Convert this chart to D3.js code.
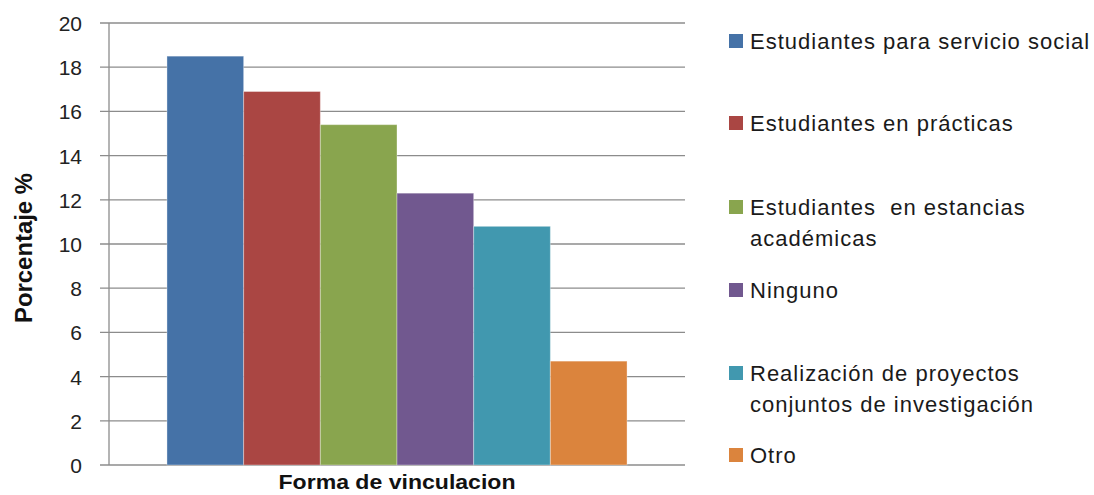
<!DOCTYPE html>
<html lang="es">
<head>
<meta charset="UTF-8">
<title>Forma de vinculacion</title>
<script src="https://d3js.org/d3.v7.min.js"></script>
<style>
body {
  margin: 0;
  background: #fff;
  font-family: "Liberation Sans", Arial, sans-serif;
}
.grid line { stroke: #8c8c8c; stroke-width: 1.3px; }
.axis text { font-size: 21px; fill: #222; }
</style>
</head>
<body>
<div id="chart"></div>
<script>
// data
var categories = ["Estudiantes para servicio social", "Estudiantes en prácticas",
  "Estudiantes  en estancias académicas", "Ninguno",
  "Realización de proyectos conjuntos de investigación", "Otro"];
var legendLines = [["Estudiantes para servicio social"], ["Estudiantes en prácticas"],
  ["Estudiantes  en estancias", "académicas"], ["Ninguno"],
  ["Realización de proyectos", "conjuntos de investigación"], ["Otro"]];
var values = [18.5, 16.9, 15.4, 12.3, 10.8, 4.7];
var colors = ["#4572A7", "#AA4643", "#89A54E", "#71588F", "#4198AF", "#DB843D"];
var yTicks = [0, 2, 4, 6, 8, 10, 12, 14, 16, 18, 20];

var W = 1094, H = 495;
var margin = {top: 23, right: 409, bottom: 30, left: 109},
    width = W - margin.left - margin.right,
    height = H - margin.top - margin.bottom;

var svg = d3.select("#chart")
  .append("svg")
    .attr("width", W)
    .attr("height", H);

var g = svg.append("g")
    .attr("transform", "translate(" + margin.left + "," + margin.top + ")");

var y = d3.scaleLinear()
  .domain([0, 20])
  .range([height, 0]);

// one group, bars side by side
var x0 = d3.scaleBand()
  .domain(["Forma de vinculacion"])
  .range([0, width])
  .paddingInner(0)
  .paddingOuter(0.126);
var x1 = d3.scaleBand()
  .domain(categories)
  .range([0, x0.bandwidth()]);

// gridlines
g.append("g")
  .attr("class", "grid")
  .selectAll("line")
  .data(yTicks)
  .enter()
  .append("line")
    .attr("x1", -9)
    .attr("x2", width)
    .attr("y1", function(d) { return y(d); })
    .attr("y2", function(d) { return y(d); });

// bars
g.append("g")
  .attr("transform", "translate(" + x0("Forma de vinculacion") + ",0)")
  .selectAll("rect")
  .data(values)
  .enter()
  .append("rect")
    .attr("x", function(d, i) { return x1(categories[i]); })
    .attr("y", function(d) { return y(d); })
    .attr("width", x1.bandwidth())
    .attr("height", function(d) { return height - y(d); })
    .style("fill", function(d, i) { return colors[i]; })
    .style("stroke", "rgba(255,255,255,0.35)")
    .style("stroke-width", 1);

// y axis
var yAxis = g.append("g")
  .attr("class", "axis")
  .call(d3.axisLeft(y).tickValues(yTicks).tickSize(0).tickPadding(27));
yAxis.select(".domain").remove();
yAxis.selectAll("text").attr("dy", "0.36em");

g.append("line")
  .attr("x1", 0).attr("x2", 0)
  .attr("y1", 0).attr("y2", height)
  .style("stroke", "#8c8c8c")
  .style("stroke-width", 1.3);

// axis titles
g.append("text")
  .attr("x", width / 2)
  .attr("y", height + 24)
  .attr("textLength", 237)
  .attr("lengthAdjust", "spacingAndGlyphs")
  .style("text-anchor", "middle")
  .style("font-weight", "bold")
  .style("font-size", "21px")
  .style("fill", "#111")
  .text("Forma de vinculacion");

g.append("text")
  .attr("transform", "rotate(-90)")
  .attr("x", -height / 2 - 4)
  .attr("y", -77)
  .attr("textLength", 150)
  .attr("lengthAdjust", "spacingAndGlyphs")
  .style("text-anchor", "middle")
  .style("font-weight", "bold")
  .style("font-size", "23px")
  .style("fill", "#111")
  .text("Porcentaje %");

// legend
var legendY = [41, 123, 207, 290, 373, 455];
var legend = svg.append("g")
  .selectAll("g")
  .data(categories)
  .enter()
  .append("g")
    .attr("transform", function(d, i) { return "translate(729," + legendY[i] + ")"; });

legend.append("rect")
  .attr("x", 0)
  .attr("y", -7)
  .attr("width", 14)
  .attr("height", 14)
  .style("fill", function(d, i) { return colors[i]; });

legend.append("text")
  .attr("x", 21)
  .attr("y", 0)
  .style("font-size", "22px")
  .style("letter-spacing", "1px")
  .style("fill", "#1a1a1a")
  .selectAll("tspan")
  .data(function(d, i) { return legendLines[i]; })
  .enter()
  .append("tspan")
    .attr("x", 21)
    .attr("dy", function(d, j) { return j === 0 ? "0.36em" : "31px"; })
    .style("white-space", "pre")
    .text(function(d) { return d; });
</script>
</body>
</html>
